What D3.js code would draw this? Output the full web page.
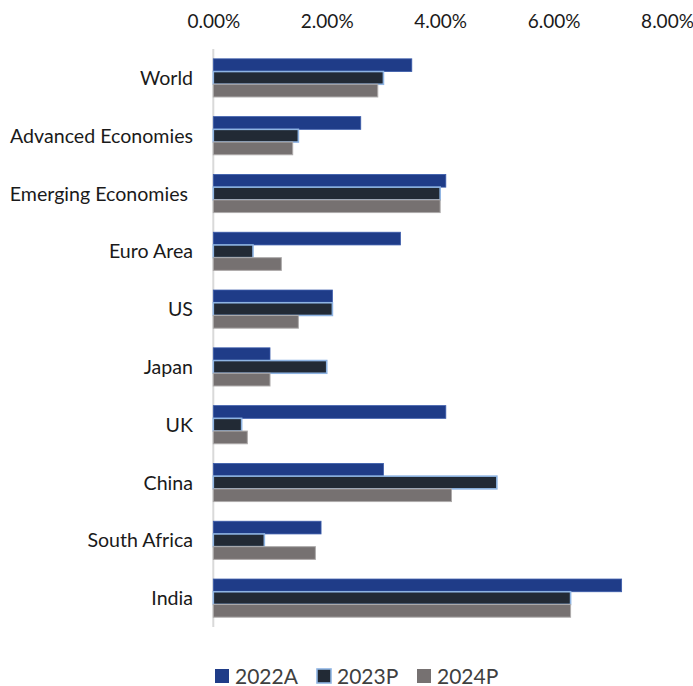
<!DOCTYPE html>
<html>
<head>
<meta charset="utf-8">
<script src="https://cdn.jsdelivr.net/npm/d3@7"></script>
<style>
  html, body { margin: 0; padding: 0; background: #fff; }
  svg { display: block; font-family: Lato, "Open Sans", sans-serif; }
</style>
</head>
<body>
<svg id="chart" width="693" height="686"></svg>
<script>
// GDP growth by region, actual 2022 and projections for 2023 / 2024 (%)
const categories = ["World", "Advanced Economies", "Emerging Economies ", "Euro Area", "US",
                    "Japan", "UK", "China", "South Africa", "India"];
const seriesNames = ["2022A", "2023P", "2024P"];
const growth2022A = [3.5, 2.6, 4.1, 3.3, 2.1, 1.0, 4.1, 3.0, 1.9, 7.2];
const growth2023P = [3.0, 1.5, 4.0, 0.7, 2.1, 2.0, 0.5, 5.0, 0.9, 6.3];
const growth2024P = [2.9, 1.4, 4.0, 1.2, 1.5, 1.0, 0.6, 4.2, 1.8, 6.3];
const tickValues = [0, 2, 4, 6, 8];

const seriesValues = [growth2022A, growth2023P, growth2024P];
const fills   = ["#1F3C88", "#222A35", "#767171"];
const strokes = ["#3B5CAB", "#8EB4E3", "#ADAAAA"];
const strokeW = [0.8, 1.6, 1];

const svg = d3.select("#chart");

const x = d3.scaleLinear().domain([0, 8]).range([213.3, 667]);
const y = d3.scaleBand().domain(categories).range([49, 627])
  .paddingInner(0.34).paddingOuter(0.17);
const ySub = d3.scaleBand().domain(seriesNames).range([0, y.bandwidth()]).padding(0);

// value axis along the top
const axis = d3.axisTop(x).tickValues(tickValues).tickSize(0).tickPadding(3)
  .tickFormat(d => d3.format(".2f")(d) + "%");
const gAxis = svg.append("g").attr("transform", "translate(0,31)").call(axis);
gAxis.select(".domain").remove();
gAxis.selectAll("text").attr("font-family", "Lato, sans-serif")
  .attr("font-size", 19).attr("fill", "#1a1a1a");

// category baseline
svg.append("line")
  .attr("x1", x(0)).attr("x2", x(0))
  .attr("y1", 49).attr("y2", 627)
  .attr("stroke", "#D9D9D9").attr("stroke-width", 2);

// bars
const groups = svg.append("g").selectAll("g")
  .data(categories)
  .join("g")
  .attr("transform", d => `translate(0,${y(d)})`);

groups.selectAll("rect")
  .data((d, i) => seriesNames.map((s, j) => ({ s, j, v: seriesValues[j][i] })))
  .join("rect")
  .attr("x", x(0))
  .attr("y", d => ySub(d.s))
  .attr("width", d => x(d.v) - x(0))
  .attr("height", ySub.bandwidth())
  .attr("fill", d => fills[d.j])
  .attr("stroke", d => strokes[d.j])
  .attr("stroke-width", d => strokeW[d.j]);

// category labels
svg.append("g").selectAll("text")
  .data(categories)
  .join("text")
  .attr("x", 193)
  .attr("y", d => y(d) + y.bandwidth() / 2)
  .attr("dy", "0.36em")
  .attr("text-anchor", "end")
  .style("white-space", "pre")
  .attr("font-size", 19.6)
  .attr("fill", "#1a1a1a")
  .text(d => d);

// legend
const legendX = [215, 317, 417];
const legend = svg.append("g").selectAll("g")
  .data(seriesNames)
  .join("g")
  .attr("transform", (d, i) => `translate(${legendX[i]},669)`);
legend.append("rect")
  .attr("width", 14).attr("height", 14)
  .attr("fill", (d, i) => fills[i])
  .attr("stroke", (d, i) => i === 1 ? strokes[i] : "none")
  .attr("stroke-width", 1.6);
legend.append("text")
  .attr("x", 20).attr("y", 14.5)
  .attr("font-size", 21)
  .attr("fill", "#404040")
  .text(d => d);
</script>
</body>
</html>
